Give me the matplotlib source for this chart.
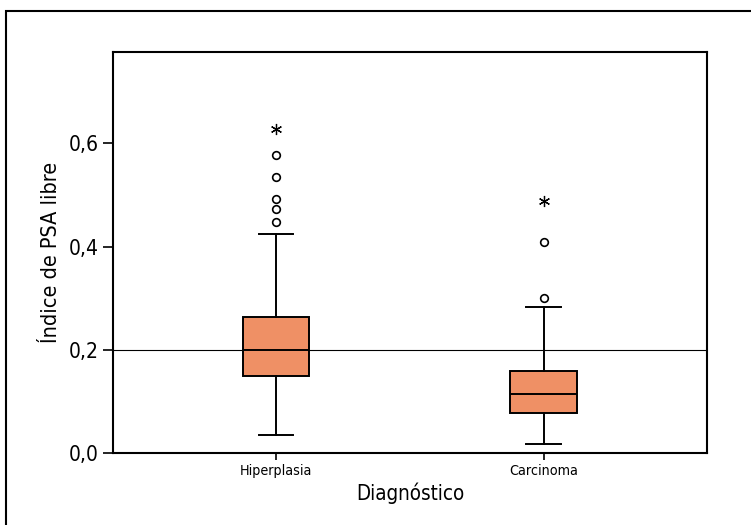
import matplotlib
matplotlib.use("Agg")
import matplotlib.pyplot as plt
from matplotlib.patches import Rectangle

# ---- data ----
groups = ["Hiperplasia", "Carcinoma"]
whislo = [0.035, 0.017]
q1 = [0.150, 0.077]
med = [0.200, 0.115]
q3 = [0.263, 0.159]
whishi = [0.425, 0.282]
outliers = [[0.448, 0.472, 0.492, 0.534, 0.578], [0.300, 0.408]]
extremes = [[0.627], [0.489]]
ref_line = 0.2

plt.rcParams['font.family'] = ['DejaVu Sans']
plt.rcParams['font.stretch'] = 'condensed'

fig = plt.figure(figsize=(7.51, 5.25), dpi=100)
W, H = 751, 525
ax = fig.add_axes([113 / W, 1 - 453 / H, 594 / W, 401 / H])

stats = []
for i, g in enumerate(groups):
    stats.append(dict(label=g, whislo=whislo[i], q1=q1[i], med=med[i], q3=q3[i],
                      whishi=whishi[i], fliers=outliers[i]))

pos = [1, 2]
ax.bxp(stats, positions=pos, widths=0.25, patch_artist=True, showfliers=True,
       boxprops=dict(facecolor="#EF9065", edgecolor="black", linewidth=1.4),
       medianprops=dict(color="black", linewidth=1.4),
       whiskerprops=dict(color="black", linewidth=1.4),
       capprops=dict(color="black", linewidth=1.4),
       capwidths=0.13,
       flierprops=dict(marker="o", markersize=5.5, markerfacecolor="white",
                       markeredgecolor="black", markeredgewidth=1.2))
for p, ex in zip(pos, extremes):
    ax.plot([p] * len(ex), ex, linestyle="none", marker=(6, 2, 0),
            markersize=8, color="black", markeredgewidth=0.9)

ax.axhline(ref_line, color="black", linewidth=0.8, zorder=0)

ax.set_xlim(0.391, 2.61)
ax.set_ylim(0, 0.777)
ax.set_yticks([0.0, 0.2, 0.4, 0.6])
ax.set_yticklabels(["0,0", "0,2", "0,4", "0,6"], fontsize=15)
ax.set_xticks(pos)
ax.set_xticklabels(groups, fontsize=10.3)
ax.tick_params(axis="y", direction="out", length=7, width=1.2, pad=3)
ax.tick_params(axis="x", direction="out", length=5, width=1.2, pad=3)
for s in ax.spines.values():
    s.set_linewidth(1.5)

ax.set_xlabel("Diagnóstico", fontsize=14.8, labelpad=3)
ax.set_ylabel("Índice de PSA libre", fontsize=15.5, labelpad=6)

# outer frame (only left and top edges visible)
fig.patches.append(Rectangle((6 / W, -0.2), 1.2, 1.2 - 11 / H,
                             transform=fig.transFigure, fill=False,
                             edgecolor="black", linewidth=1.5))

fig.savefig("out.png", dpi=100)
